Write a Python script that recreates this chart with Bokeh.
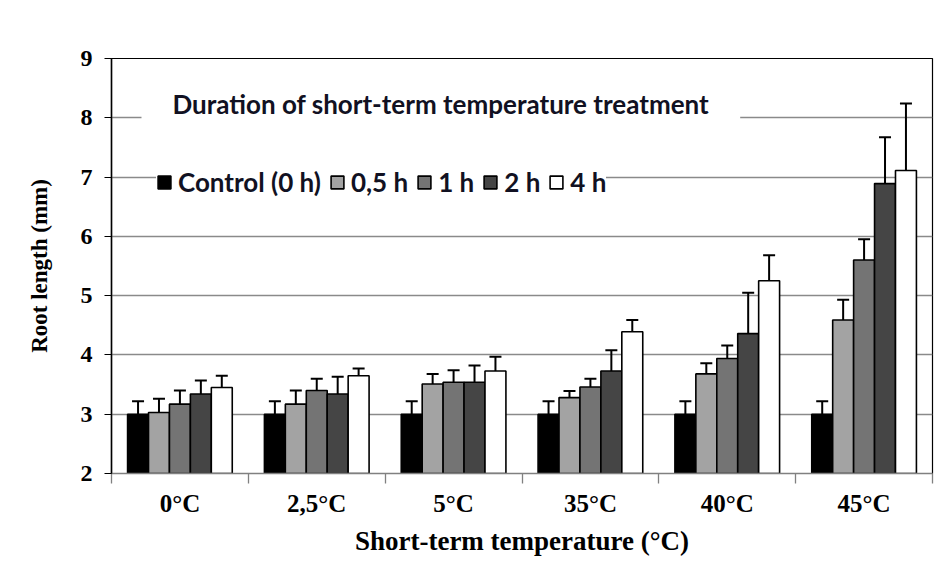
from bokeh.plotting import figure
from bokeh.models import (ColumnDataSource, Range1d, FixedTicker, Whisker, TeeHead,
                          Legend, LegendItem, Label)
from bokeh.embed import file_html
from bokeh.resources import INLINE

# ---------------- data ----------------
categories = ["0°C", "2,5°C", "5°C", "35°C", "40°C", "45°C"]
durations = ["Control (0 h)", "0,5 h", "1 h", "2 h", "4 h"]

control = [3.00, 3.00, 3.00, 3.00, 3.00, 3.00]
h05 = [3.03, 3.17, 3.51, 3.28, 3.68, 4.59]
h1 = [3.17, 3.40, 3.54, 3.46, 3.94, 5.60]
h2 = [3.34, 3.34, 3.54, 3.73, 4.36, 6.89]
h4 = [3.45, 3.65, 3.73, 4.39, 5.25, 7.11]

control_err = [0.22, 0.22, 0.22, 0.22, 0.22, 0.22]
h05_err = [0.23, 0.23, 0.17, 0.11, 0.18, 0.34]
h1_err = [0.23, 0.20, 0.20, 0.14, 0.22, 0.35]
h2_err = [0.23, 0.29, 0.28, 0.35, 0.69, 0.78]
h4_err = [0.20, 0.12, 0.24, 0.20, 0.43, 1.13]

colors = ["#000000", "#a3a3a3", "#747474", "#454545", "#ffffff"]
y_ticks = [2, 3, 4, 5, 6, 7, 8, 9]

series = [control, h05, h1, h2, h4]
errors = [control_err, h05_err, h1_err, h2_err, h4_err]

# ---------------- figure ----------------
serif = "Liberation Serif"
sans = "Lato"

p = figure(width=941, height=560,
           x_range=Range1d(0, len(categories)),
           y_range=Range1d(y_ticks[0], y_ticks[-1]),
           output_backend="svg", toolbar_location=None,
           min_border_left=111, min_border_right=9,
           min_border_top=58, min_border_bottom=87)
p.background_fill_color = "white"
p.border_fill_color = "white"
p.outline_line_color = "black"
p.outline_line_width = 1.2

bar_w = 0.153
n = len(series)
items = []
for k, (name, vals, errs, col) in enumerate(zip(durations, series, errors, colors)):
    xs = [i + 0.5 + (k - (n - 1) / 2) * bar_w for i in range(len(categories))]
    src = ColumnDataSource(dict(x=xs, top=vals,
                                upper=[v + e for v, e in zip(vals, errs)]))
    r = p.vbar(x="x", top="top", bottom=y_ticks[0], width=bar_w, source=src,
               fill_color=col, line_color="black", line_width=1.6)
    w = Whisker(base="x", lower="top", upper="upper", source=src,
                dimension="height", line_color="black", line_width=2,
                upper_head=TeeHead(size=12, line_width=2, line_color="black"),
                lower_head=None, level="annotation")
    p.add_layout(w)
    items.append(LegendItem(label=name, renderers=[r]))

# ---------------- axes ----------------
p.xgrid.visible = False
p.ygrid.grid_line_color = "#8a8a8a"
p.ygrid.grid_line_width = 1.3

ya = p.yaxis[0]
ya.ticker = FixedTicker(ticks=y_ticks)
ya.axis_label = "Root length (mm)"
ya.axis_label_text_font = serif
ya.axis_label_text_font_size = "23px"
ya.axis_label_text_font_style = "bold"
ya.axis_label_text_color = "black"
ya.axis_label_standoff = 26
ya.major_label_text_font = serif
ya.major_label_text_font_size = "24px"
ya.major_label_text_font_style = "bold"
ya.major_label_text_color = "black"
ya.major_label_standoff = 12
ya.major_tick_out = 7
ya.major_tick_in = 0
ya.major_tick_line_color = "black"
ya.minor_tick_line_color = None
ya.axis_line_color = "black"
ya.axis_line_width = 1.5

xa = p.xaxis[0]
xa.ticker = FixedTicker(ticks=[i + 0.5 for i in range(len(categories))],
                        minor_ticks=list(range(len(categories) + 1)))
xa.major_label_overrides = {i + 0.5: c for i, c in enumerate(categories)}
xa.axis_label = "Short-term temperature (°C)"
xa.axis_label_text_font = serif
xa.axis_label_text_font_size = "27px"
xa.axis_label_text_font_style = "bold"
xa.axis_label_text_color = "black"
xa.axis_label_standoff = 6
xa.major_label_text_font = serif
xa.major_label_text_font_size = "25px"
xa.major_label_text_font_style = "bold"
xa.major_label_text_color = "black"
xa.major_label_standoff = 6
xa.major_tick_line_color = None
xa.major_tick_out = 0
xa.major_tick_in = 0
xa.minor_tick_out = 10
xa.minor_tick_in = 0
xa.minor_tick_line_color = "#808080"
xa.minor_tick_line_width = 1.3
xa.axis_line_color = "#808080"
xa.axis_line_width = 1.5

# ---------------- legend + title ----------------
legend = Legend(items=items, orientation="horizontal", location=(45, 275),
                glyph_width=16, glyph_height=16, label_standoff=6, spacing=8,
                padding=8, margin=0, border_line_color=None,
                background_fill_color="white", background_fill_alpha=1.0,
                label_text_font=sans, label_text_font_size="26px",
                label_text_font_style="bold", label_text_color="#111122")
p.add_layout(legend)

title = Label(x=30, y=370, x_units="screen", y_units="screen",
              text="Duration of short-term temperature treatment",
              text_font=sans, text_font_size="26px", text_font_style="bold",
              text_color="#111122", text_baseline="middle", text_align="left",
              background_fill_color="white", background_fill_alpha=1.0,
              padding=dict(x=31, y=8))
p.add_layout(title)

open("out.html", "w").write(file_html(p, INLINE))
